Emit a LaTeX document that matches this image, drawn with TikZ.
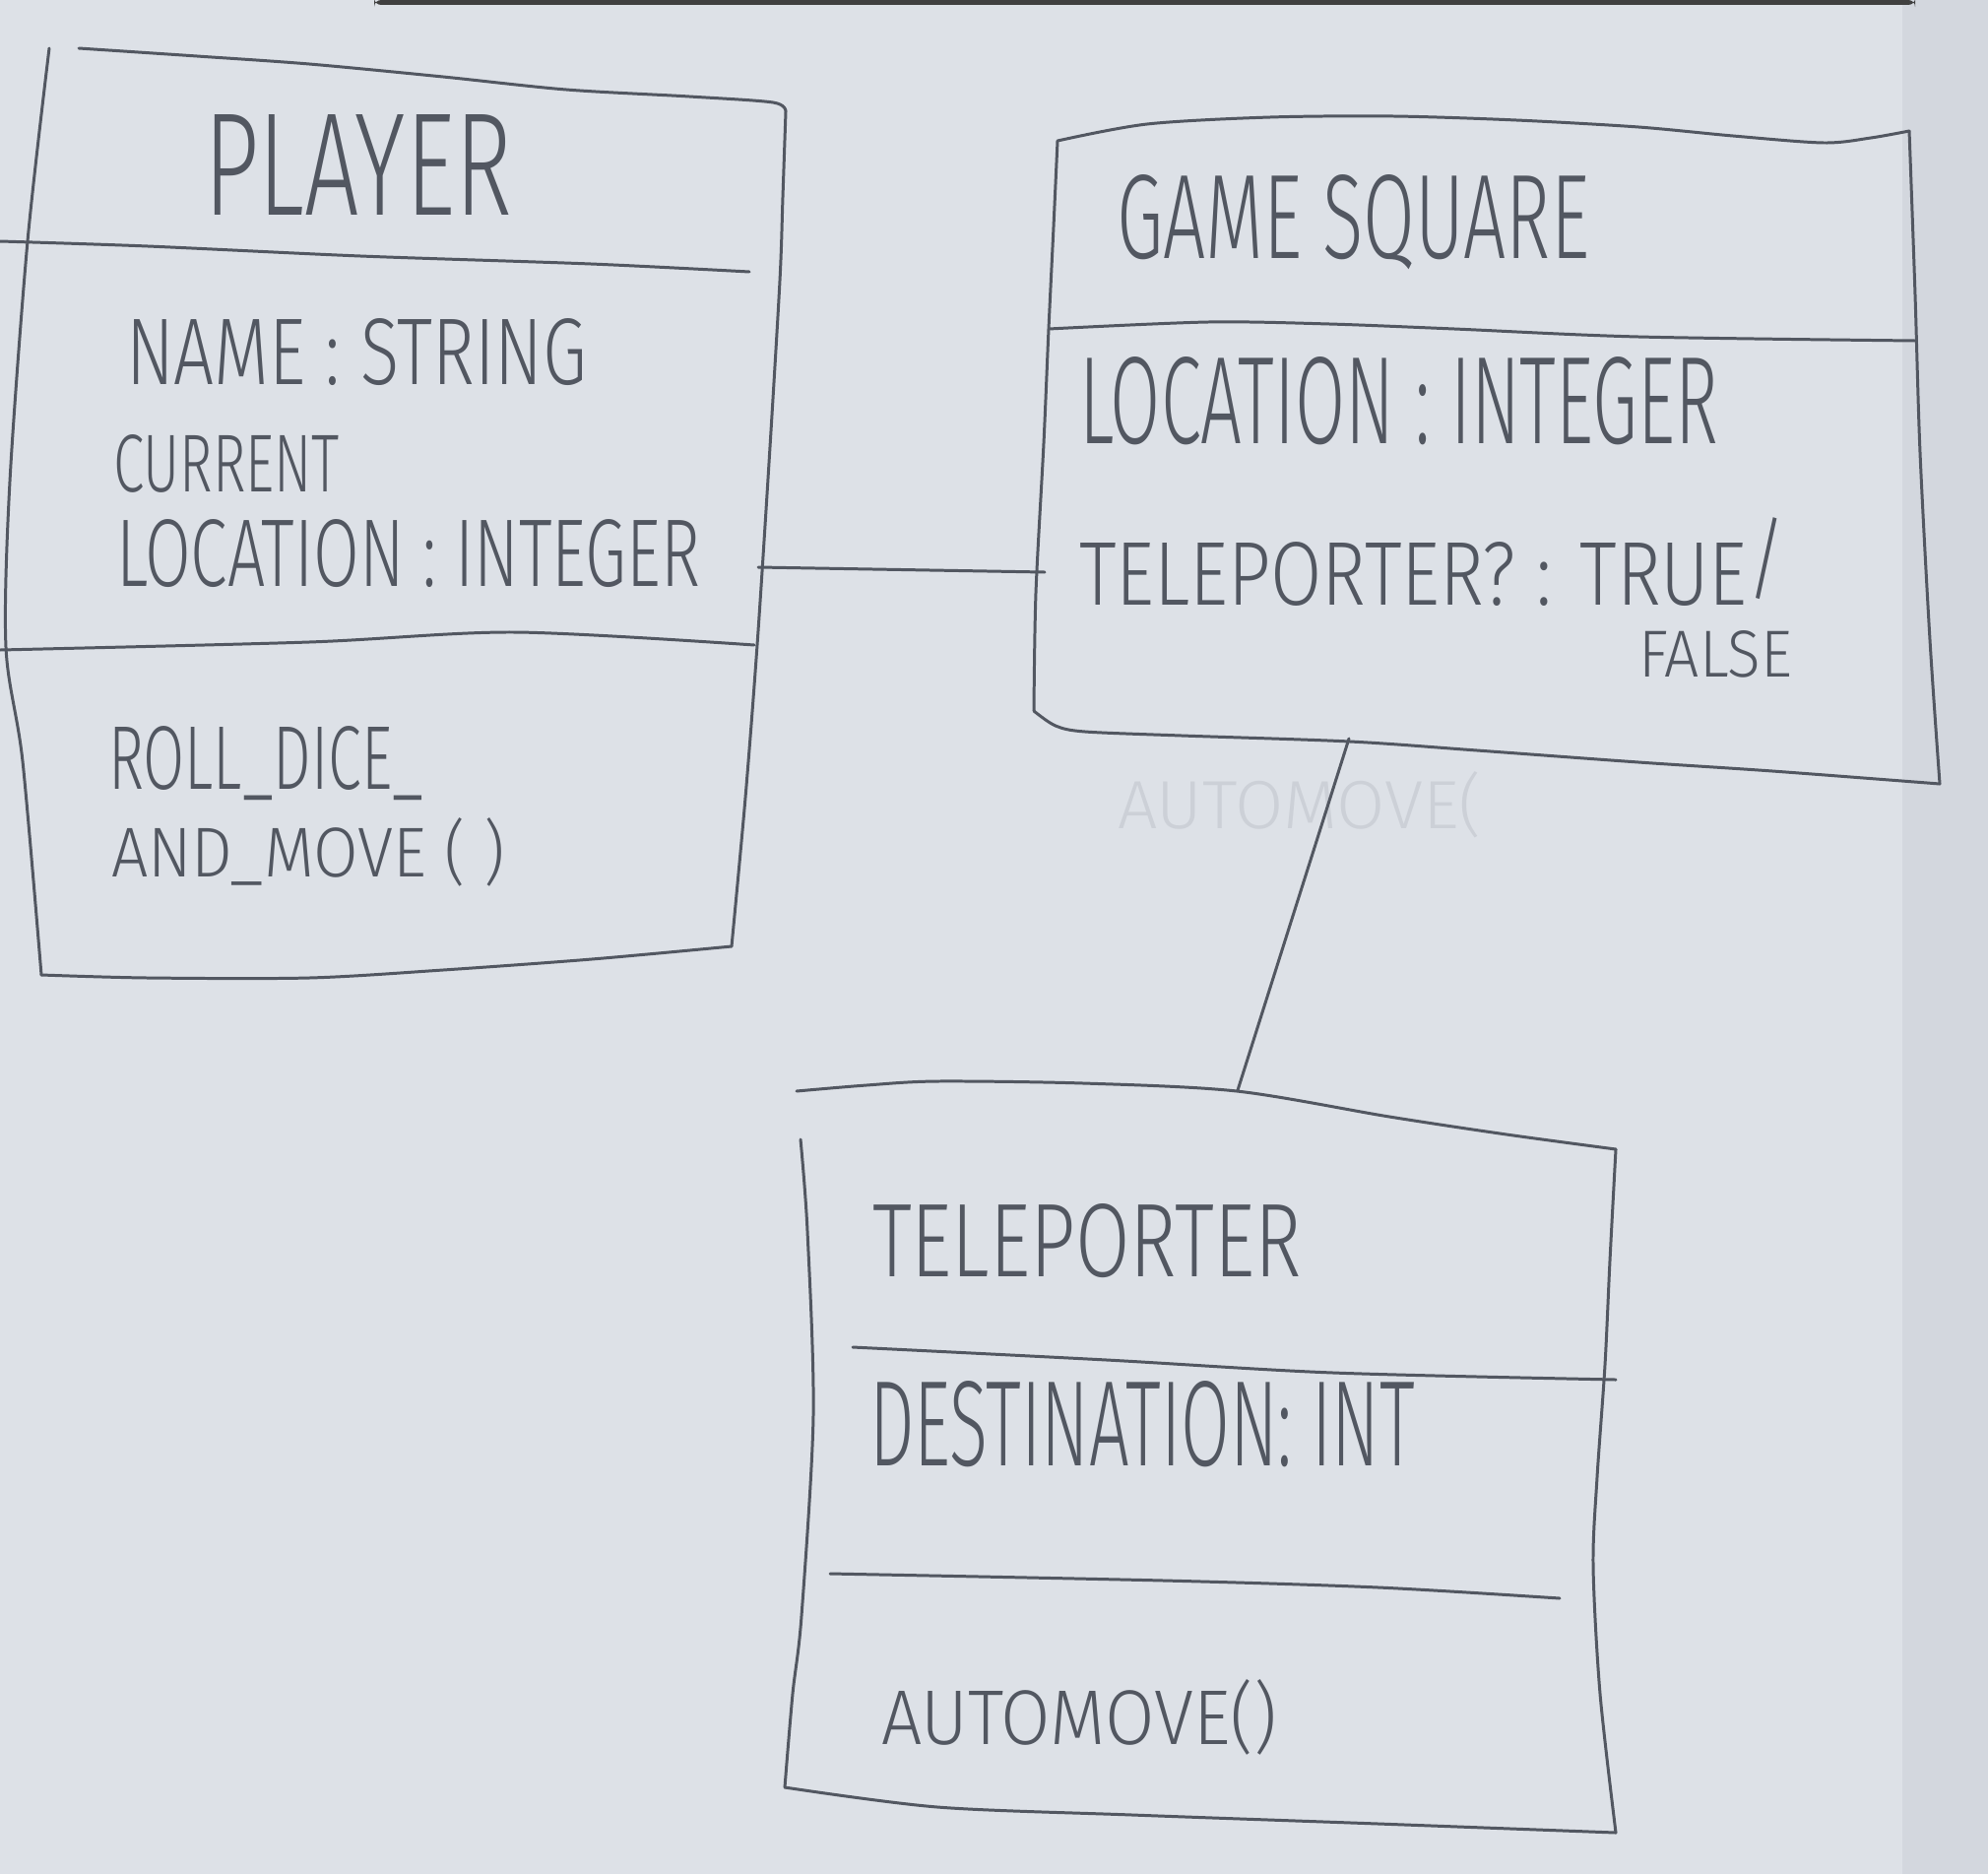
\documentclass[tikz,border=0pt]{standalone}
\usepackage{fontspec}
\usepackage{graphicx}
\newfontfamily\hand{Fira Sans Light}
\definecolor{paper}{RGB}{221,225,231}
\definecolor{paperedge}{RGB}{211,215,222}
\definecolor{pencil}{RGB}{82,87,97}
\definecolor{ghost}{RGB}{204,208,215}
\newlength\pxu
\setlength\pxu{0.01cm}
% hand-lettered label fitted to a given width and height (in px units)
\newcommand\hw[3]{\resizebox{#1\pxu}{#2\pxu}{\hand #3}}
\tikzset{
  outline/.style={draw=pencil, line width=0.85pt, line cap=round, line join=round},
  rule/.style={draw=pencil, line width=0.85pt, line cap=round},
  link/.style={draw=pencil, line width=0.85pt, line cap=round},
  label/.style={inner sep=0pt, outer sep=0pt, anchor=north west, text=pencil},
  faint/.style={inner sep=0pt, outer sep=0pt, anchor=north west, text=ghost},
}
\begin{document}
\begin{tikzpicture}[x=0.01cm, y=-0.01cm]
% sheet of paper
\fill[paper] (0,0) rectangle (2019,1903);
\fill[paperedge] (1932,0) rectangle (2019,1903);
\useasboundingbox (0,0) rectangle (2019,1903);
\fill[black!75, rounded corners=2pt] (380,0) rectangle (1945,5);

% ---------------- Player ----------------
\draw[outline] plot[smooth, tension=0.5] coordinates
  {(80,49) (200,57) (314,65) (450,78) (575,91) (700,98) (785,104) (798,113)};
\draw[outline] plot[smooth, tension=0.5] coordinates
  {(798,113) (795,200) (792,285) (781,470) (769,655) (757,810) (743,961)};
\draw[outline] plot[smooth, tension=0.5] coordinates
  {(743,961) (601,974) (450,985) (314,993) (150,993) (42,990)};
\draw[outline] plot[smooth, tension=0.5] coordinates
  {(42,990) (23,773) (6,657) (10,489) (28,245) (50,49)};
\draw[rule] plot[smooth, tension=0.5] coordinates
  {(0,245) (150,250) (366,260) (600,268) (761,276)};
\draw[rule] plot[smooth, tension=0.5] coordinates
  {(0,660) (314,652) (523,642) (766,655)};
\node[label] (ptitle) at (207,116) {\hw{313}{102}{PLAYER}};
\node[label] (pname)  at (128,323) {\hw{468}{67}{NAME : STRING}};
\node[label] (pcur)   at (115,441) {\hw{230}{58}{CURRENT}};
\node[label] (ploc)   at (118,527) {\hw{593}{68}{LOCATION : INTEGER}};
\node[label] (proll)  at (110,737) {\hw{320}{64}{ROLL\_DICE\_}};
\node[label] (pmove)  at (113,830) {\hw{400}{60}{AND\_MOVE ( )}};

% ---------------- Game Square ----------------
\draw[outline] plot[smooth, tension=0.5] coordinates
  {(1074,143) (1165,126) (1290,119) (1415,118) (1540,122) (1664,129) (1760,138) (1852,145) (1900,140) (1939,133)};
\draw[outline] plot[smooth, tension=0.5] coordinates
  {(1939,133) (1945,300) (1950,460) (1960,650) (1970,796)};
\draw[outline] plot[smooth, tension=0.5] coordinates
  {(1970,796) (1800,783) (1664,774) (1500,762) (1371,753) (1200,747) (1102,743) (1072,737) (1050,722)};
\draw[outline] plot[smooth, tension=0.5] coordinates
  {(1050,722) (1052,602) (1060,450) (1065,334) (1070,230) (1074,143)};
\draw[rule] plot[smooth, tension=0.5] coordinates
  {(1065,334) (1227,327) (1350,329) (1477,334) (1664,342) (1945,346)};
\node[label] (gtitle) at (1134,177) {\hw{480}{85}{GAME SQUARE}};
\node[label] (gloc)   at (1096,362) {\hw{649}{88}{LOCATION : INTEGER}};
\node[label] (gtele)  at (1096,550) {\hw{718}{64}{TELEPORTER? : TRUE\smash{\raisebox{0.16em}{/}}}};
\node[label] (gfalse) at (1664,640) {\hw{156}{47}{FALSE}};
\node[faint]  (ghost) at (1135,783) {\hw{370}{58}{AUTOMOVE(}};

% ---------------- Teleporter ----------------
\draw[outline] plot[smooth, tension=0.5] coordinates
  {(809,1108) (880,1102) (952,1098) (1100,1100) (1256,1108) (1411,1134) (1530,1152) (1641,1167)};
\draw[outline] plot[smooth, tension=0.5] coordinates
  {(1641,1167) (1635,1280) (1630,1386) (1622,1500) (1618,1590) (1625,1720) (1641,1861)};
\draw[outline] plot[smooth, tension=0.5] coordinates
  {(1641,1861) (1400,1852) (1150,1843) (952,1835) (797,1815)};
\draw[outline] plot[smooth, tension=0.5] coordinates
  {(797,1815) (805,1720) (814,1641) (826,1437) (820,1250) (813,1157)};
\draw[rule] plot[smooth, tension=0.5] coordinates
  {(866,1368) (1124,1381) (1354,1394) (1641,1401)};
\draw[rule] plot[smooth, tension=0.5] coordinates
  {(843,1598) (1182,1605) (1400,1612) (1584,1623)};
\node[label] (ttitle) at (886,1222) {\hw{436}{74}{TELEPORTER}};
\node[label] (tdest)  at (883,1402) {\hw{554}{86}{DESTINATION: INT}};
\node[label] (tauto)  at (895,1705) {\hw{402}{66}{AUTOMOVE()}};

% ---------------- associations ----------------
\coordinate (playerR) at (770,576);
\coordinate (squareL) at (1061,581);
\coordinate (squareB) at (1370,750);
\coordinate (teleT)   at (1257,1107);
\draw[link] (playerR) -- (squareL);
\draw[link] (squareB) -- (teleT);
\end{tikzpicture}
\end{document}
